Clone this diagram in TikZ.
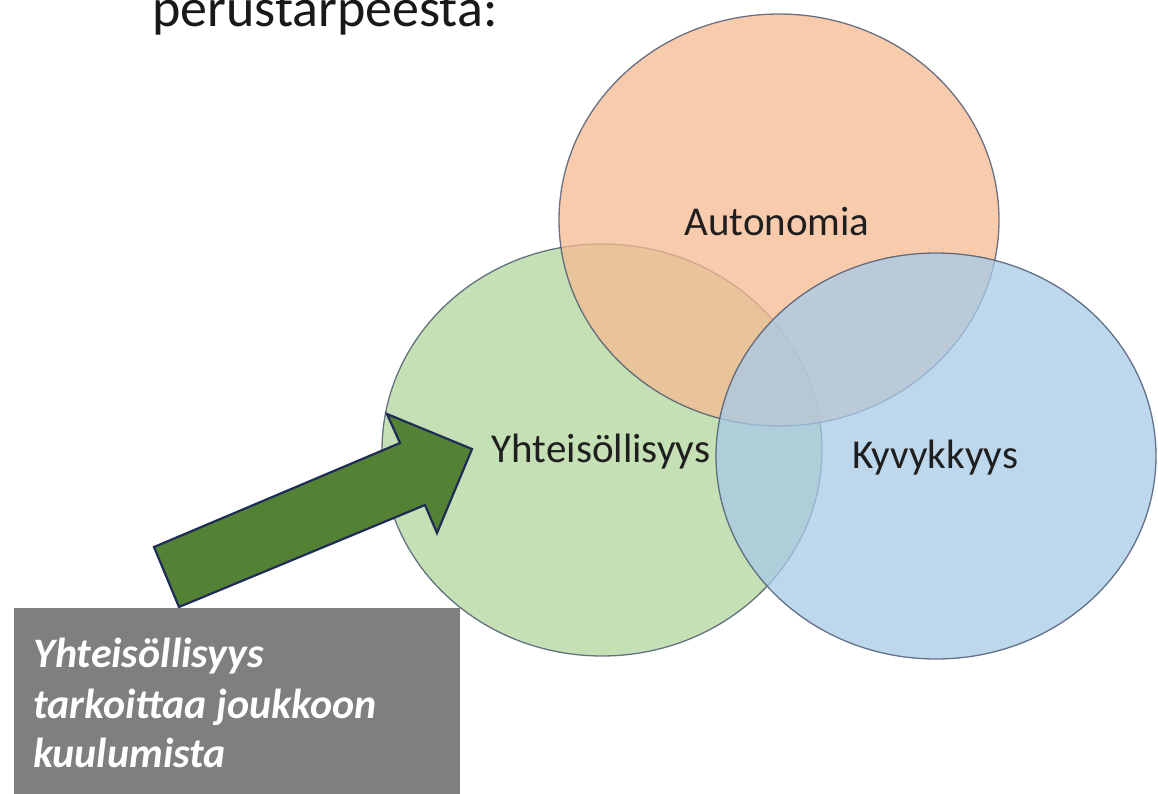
\documentclass[tikz,border=0pt]{standalone}
\usepackage{fontspec}
\setmainfont{Carlito}
\usetikzlibrary{shapes.geometric}
\definecolor{orangefill}{RGB}{246,186,146}
\definecolor{greenfill}{RGB}{178,214,155}
\definecolor{bluefill}{RGB}{167,202,232}
\definecolor{vennline}{RGB}{70,84,110}
\definecolor{arrowgreen}{RGB}{84,130,53}
\definecolor{arrowline}{RGB}{31,45,86}
\definecolor{notegray}{RGB}{127,127,127}
\begin{document}
\begin{tikzpicture}[x=1pt,y=-1pt,
  venn/.style={ellipse, draw=vennline, line width=1.3pt, fill opacity=0.75, draw opacity=0.8,
    minimum width=440pt, minimum height=412pt, inner sep=0pt},
  lbl/.style={font=\fontsize{41}{48}\selectfont, text=black!88, inner sep=0pt},
  title/.style={font=\fontsize{54}{60}\selectfont, text=black!90, inner sep=0pt, anchor=base west},
  notebox/.style={fill=notegray, draw=none, inner sep=0pt, anchor=north west},
  notetext/.style={font=\fontsize{42}{50}\selectfont\bfseries\itshape, text=white, inner sep=0pt, anchor=base west},
  bigarrow/.style={fill=arrowgreen, draw=arrowline, line width=2.2pt, line join=miter}]
\useasboundingbox (0,0) rectangle (1158,794);
\clip (0,0) rectangle (1158,794);
\fill[white] (0,0) rectangle (1158,794);

\node[title] (title) at (152,27) {perustarpeesta:};

\node[venn, fill=greenfill] (yht) at (602,450) {};
\node[venn, fill=orangefill] (aut) at (779,220) {};
\node[venn, fill=bluefill, minimum width=440pt, minimum height=406pt] (kyv) at (936,456) {};

\node[lbl] (autlbl) at (777,222) {Autonomia};
\node[lbl] (yhtlbl) at (601,452) {Yhteisöllisyys};
\node[lbl] (kyvlbl) at (935,458) {Kyvykkyys};

\draw[bigarrow] (154,547) -- (400,443) -- (387,414) -- (472,449) -- (437,533) -- (425,505) -- (179,607) -- cycle;

\node[notebox, minimum width=446pt, minimum height=200pt] (note) at (14,608) {};
\node[notetext] (note1) at (33,667) {Yhteisöllisyys};
\node[notetext] (note2) at (33,718) {tarkoittaa joukkoon};
\node[notetext] (note3) at (33,767) {kuulumista};
\end{tikzpicture}
\end{document}
